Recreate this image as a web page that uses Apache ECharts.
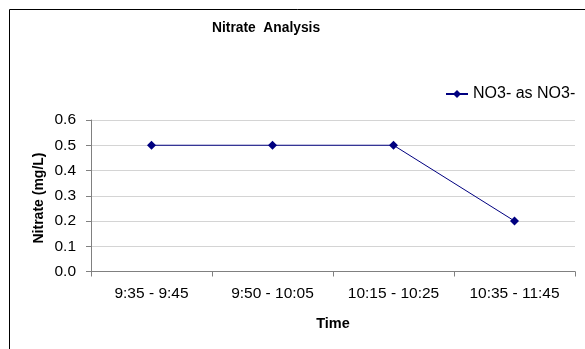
<!DOCTYPE html>
<html>
<head>
<meta charset="utf-8">
<script src="https://cdn.jsdelivr.net/npm/echarts@6/dist/echarts.min.js"></script>
<style>
html,body{margin:0;padding:0;background:#fff;}
#chart{width:585px;height:349px;}
</style>
</head>
<body>
<div id="chart"></div>
<script>
const categories = ['9:35 - 9:45', '9:50 - 10:05', '10:15 - 10:25', '10:35 - 11:45'];
const no3Values = [0.5, 0.5, 0.5, 0.2];
const seriesName = 'NO3- as NO3-';
const chartTitle = 'Nitrate  Analysis';
const xName = 'Time';
const yName = 'Nitrate (mg/L)';

const FONT = '"Liberation Sans", Arial, sans-serif';
const chart = echarts.init(document.getElementById('chart'), null, {renderer: 'canvas'});
chart.setOption({
  animation: false,
  backgroundColor: '#fff',
  textStyle: {fontFamily: FONT},
  graphic: [
    {type: 'rect', shape: {x: 9.5, y: 9.5, width: 800, height: 600}, style: {fill: 'none', stroke: '#000', lineWidth: 1}, z: 100},
    {type: 'text', left: 212, top: 21, style: {text: chartTitle, font: 'bold 13.8px ' + FONT, fill: '#000'}},
    {type: 'text', x: 39.5, y: 198, rotation: Math.PI / 2, style: {text: yName, font: 'bold 14px ' + FONT, fill: '#000', align: 'center', verticalAlign: 'middle'}},
    {type: 'text', x: 333, y: 324, style: {text: xName, font: 'bold 14.5px ' + FONT, fill: '#000', align: 'center', verticalAlign: 'middle'}}
  ],
  legend: {
    left: 445, top: 86, padding: 0,
    itemWidth: 22, itemHeight: 10,
    textStyle: {fontSize: 16, color: '#000', fontFamily: FONT},
    data: [seriesName]
  },
  grid: {left: 91, top: 120, right: 10, bottom: 77.5, containLabel: false},
  xAxis: {
    type: 'category',
    data: categories,
    boundaryGap: true,
    axisLine: {lineStyle: {color: '#808080', width: 1}},
    axisTick: {show: true, length: 5, inside: false, alignWithLabel: false, lineStyle: {color: '#808080'}},
    axisLabel: {fontSize: 15.5, color: '#000', margin: 14, fontFamily: FONT, interval: 0},
    splitLine: {show: false}
  },
  yAxis: {
    type: 'value',
    min: 0, max: 0.6, interval: 0.1,
    axisLine: {show: true, lineStyle: {color: '#808080', width: 1}},
    axisTick: {show: true, length: 5, lineStyle: {color: '#808080'}},
    axisLabel: {fontSize: 15.5, color: '#000', margin: 15, fontFamily: FONT, formatter: v => v.toFixed(1)},
    splitLine: {show: true, lineStyle: {color: '#d4d4d4', width: 1}}
  },
  series: [{
    name: seriesName,
    type: 'line',
    data: no3Values,
    symbol: 'diamond',
    symbolSize: 9,
    itemStyle: {color: '#000080'},
    lineStyle: {color: '#000080', width: 1}
  }]
});
</script>
</body>
</html>
